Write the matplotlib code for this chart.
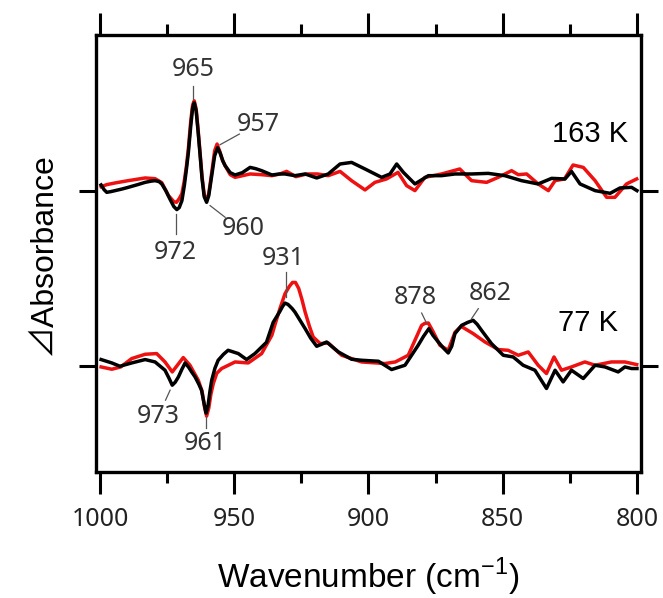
import numpy as np
import matplotlib
matplotlib.use("Agg")
import matplotlib.pyplot as plt
from matplotlib.ticker import MultipleLocator

plt.rcParams['mathtext.fontset'] = 'custom'
plt.rcParams['mathtext.rm'] = 'Liberation Sans'

# difference spectra, arbitrary units
# 163 K
wn_163_black = [999.6, 998.5, 997.5, 996.0, 994.4, 992.0, 989.5, 986.0, 983.2, 981.0,
                979.5, 978.0, 977.0, 975.5, 974.0, 972.5, 971.4, 970.5, 969.5, 968.6,
                967.8, 967.1, 966.2, 965.5, 964.9, 964.2, 963.5, 962.8, 962.0, 961.2,
                960.3, 959.5, 958.4, 957.3, 956.2, 955.3, 954.3, 953.4, 951.5, 949.7,
                947.0, 944.1, 942.0, 939.8, 936.0, 933.0, 931.1, 927.4, 923.6, 919.3,
                915.0, 910.6, 906.3, 901.3, 895.1, 892.0, 889.5, 887.0, 882.7, 877.7,
                872.8, 867.8, 861.6, 855.4, 849.2, 843.0, 836.8, 831.8, 826.8, 824.4,
                821.2, 815.6, 810.0, 806.3, 802.0, 800.0]
abs_163_black = [5.7, 1, -1.7, -1, 0, 1.5, 3.3, 6, 8.3, 9.5,
                 10, 9, 6.7, 0, -8.3, -16, -19, -17, -10, 5,
                 22, 38, 65, 83, 88, 80, 60, 38, 12, -6,
                 -11.7, -5, 15, 35, 43, 38, 30, 25, 18, 15.7,
                 18, 23.3, 22, 20, 15.7, 16.7, 16.7, 15, 16.7, 12.7,
                 16.7, 26.7, 28.3, 21.7, 13.3, 16.7, 26.7, 18.3, 6.7, 15,
                 15, 16.7, 16.7, 17.3, 15, 10, 6.7, 12.3, 11.7, 19.3,
                 6.7, 0, -2.7, 2.7, 3.3, 0]

wn_163_red = [999.6, 997.5, 994.4, 989.5, 983.2, 979.5, 977.0, 974.5, 972.5, 971.5,
              970.5, 969.5, 968.6, 967.8, 967.1, 966.2, 965.5, 964.9, 964.2, 963.5,
              962.8, 962.0, 961.2, 960.3, 959.5, 958.4, 957.3, 956.4, 955.5, 954.3,
              953.4, 951.5, 949.7, 944.1, 939.8, 936.0, 933.0, 930.5, 927.0, 923.0,
              919.0, 915.0, 910.6, 906.3, 901.3, 897.6, 893.3, 889.0, 885.8, 882.7,
              879.0, 872.8, 866.0, 861.6, 856.0, 851.7, 846.7, 844.2, 841.1, 836.8,
              833.0, 830.5, 827.0, 823.8, 820.0, 815.6, 811.3, 808.2, 803.9, 800.1]
abs_163_red = [4, 6, 7.7, 10, 12.7, 12, 8, -5, -11, -11.7,
               -8, -3, 10, 25, 42, 70, 86, 90, 82, 62,
               40, 14, -4, -10, -3, 18, 40, 46.7, 40, 30,
               25, 16, 13.3, 16.7, 16, 15, 16.7, 19.3, 14, 16.7,
               16.7, 15, 19.3, 10, 0.7, 8.3, 11.7, 18.3, 5, 0,
               13.3, 16.7, 21.7, 10, 8.3, 13.3, 20, 16, 16.7, 6.7,
               0, 10, 11.7, 25.7, 23.3, 10, -6.7, -6.7, 6.7, 11.7]

# 77 K
wn_77_black = [999.6, 995.6, 992.6, 988.2, 983.2, 979.5, 975.8, 974.3, 973.1, 972.0,
               970.8, 969.5, 968.3, 967.0, 965.8, 964.6, 963.2, 962.2, 961.2, 960.5,
               959.8, 959.0, 958.4, 957.2, 956.0, 954.0, 952.3, 948.5, 945.4, 942.3,
               938.0, 935.5, 933.0, 932.0, 931.1, 930.0, 928.5, 927.4, 925.5, 923.6,
               921.5, 919.3, 917.5, 915.6, 911.2, 906.3, 902.6, 896.3, 891.4, 886.4,
               881.5, 879.5, 877.5, 876.0, 874.0, 872.0, 870.3, 869.0, 867.8, 865.3,
               863.0, 861.0, 859.5, 857.9, 854.2, 849.8, 846.1, 842.4, 838.0, 833.7,
               830.5, 827.5, 824.4, 820.0, 815.6, 811.9, 807.0, 804.5, 802.0, 800.0]
abs_77_black = [6.7, 3.3, 0, 3.3, 6.7, 4.3, -4, -12, -19, -16,
                -10.7, -3, 3.3, -1, -6, -10.7, -18, -24, -38, -47,
                -40, -24, -14, -2, 6, 12, 16, 12.7, 6.7, 12.7,
                24, 44, 55, 60, 63.3, 62, 58, 54.3, 46, 37.7,
                28, 20, 22, 24.3, 14.3, 7, 6, 5, -3.3, 1,
                21, 30, 37.7, 31, 24.3, 18, 13.3, 20, 32.7, 41,
                44, 46, 42, 36, 22.7, 11, 9.3, 1, -4, -22.3,
                -4, -15.7, -4, -12.3, 1, -0.7, -5.7, -0.7, -2.3, -2.3]

wn_77_red = [999.6, 995.6, 992.3, 988.2, 983.2, 978.9, 975.8, 973.1, 969.0, 966.5,
             963.4, 962.0, 961.0, 960.3, 959.5, 958.7, 957.8, 956.5, 954.7, 949.7,
             944.8, 939.8, 936.0, 934.8, 933.0, 931.1, 929.5, 928.3, 927.2, 926.0,
             924.8, 923.6, 922.0, 920.6, 918.0, 915.0, 910.0, 902.6, 893.9, 890.0,
             885.2, 880.2, 879.0, 877.7, 876.0, 873.4, 870.3, 867.8, 865.5, 861.0,
             856.6, 851.6, 848.0, 844.2, 840.5, 836.8, 833.7, 830.9, 828.1, 824.4,
             819.4, 815.6, 809.5, 804.5, 800.1]
abs_77_red = [-0.7, -3, -0.7, 7.7, 12, 12.7, 4.3, -5.7, 8.7, 1,
              -14, -25, -42, -50, -42, -28, -17.3, -7, -2.3, 4.3,
              3.3, 12.7, 31, 42, 57.7, 72.7, 80, 84, 84, 78,
              67, 54.3, 40, 29.3, 22.7, 23.3, 11, 4.3, 2.7, 4.3,
              11, 41, 43, 43.3, 35, 21, 16, 34, 40, 32.7,
              24.3, 16.7, 16, 11, 14.3, 1, -7.3, 9.3, -4, -0.7,
              4.3, 1, 4.3, 4.3, 1.7]

offset = 176  # vertical shift of the 163 K spectra

# peak labels: (text, text x, text y, line start, line end)
peaks = [
    ("965", 965.3, 297.7, (965.3, 281.0), (965.3, 267.7)),
    ("957", 941.0, 242.7, (948.1, 232.7), (955.3, 222.0)),
    ("960", 946.6, 137.7, (953.4, 149.3), (959.0, 161.0)),
    ("972", 971.8, 114.3, (971.8, 132.7), (971.8, 152.7)),
    ("931", 931.7, 107.7, (930.9, 94.3), (930.9, 69.3)),
    ("878", 882.7, 69.3, (880.2, 53.3), (878.4, 43.3)),
    ("862", 854.7, 72.7, (859.1, 57.7), (861.6, 47.7)),
    ("973", 978.3, -50.7, (975.6, -34.0), (973.9, -24.0)),
    ("961", 960.9, -77.0, (960.5, -62.3), (960.5, -50.7)),
]

fig = plt.figure(figsize=(6.63, 5.98), dpi=100)
ax = fig.add_axes([0.1448, 0.2107, 0.8220, 0.7308])

lw = 2.5
ax.plot(wn_163_red, np.array(abs_163_red) + offset, color='#ee1111', lw=lw)
ax.plot(wn_163_black, np.array(abs_163_black) + offset, color='black', lw=lw)
ax.plot(wn_77_red, abs_77_red, color='#ee1111', lw=lw)
ax.plot(wn_77_black, abs_77_black, color='black', lw=lw)

for txt, tx, ty, p0, p1 in peaks:
    ax.text(tx, ty, txt, ha='center', va='center', fontsize=18,
            family='Noto Sans', color='#333333')
    ax.plot([p0[0], p1[0]], [p0[1], p1[1]], color='#555555', lw=0.9)

ax.text(817.5, 233, "163 K", ha='center', va='center', fontsize=21,
        family='Liberation Sans')
ax.text(818.4, 43.5, "77 K", ha='center', va='center', fontsize=21,
        family='Liberation Sans')

ax.set_xlim(1001.5, 798.5)
ax.set_ylim(-106, 332)

ax.xaxis.set_major_locator(MultipleLocator(50))
ax.xaxis.set_minor_locator(MultipleLocator(25))
ax.set_yticks([0, offset])
ax.set_yticklabels([])

ax.tick_params(axis='x', which='major', direction='out', length=16, width=2.2,
               top=True, labeltop=False, pad=9, labelsize=18)
ax.tick_params(axis='x', which='minor', direction='out', length=8, width=2.2,
               top=True)
ax.tick_params(axis='y', which='major', direction='out', length=12, width=2.2,
               right=True, left=True)
for lab in ax.get_xticklabels():
    lab.set_family('Noto Sans')
    lab.set_color('#222222')
for sp in ax.spines.values():
    sp.set_linewidth(2.4)

ax.set_xlabel(r'Wavenumber (cm$^{\mathregular{-1}}$)', fontsize=24,
              family='Liberation Sans', labelpad=17)
ax.set_ylabel('⊿Absorbance', fontsize=23,
              family=['Liberation Sans', 'Noto Sans CJK JP'], labelpad=12)

fig.savefig('out.png', dpi=100)
